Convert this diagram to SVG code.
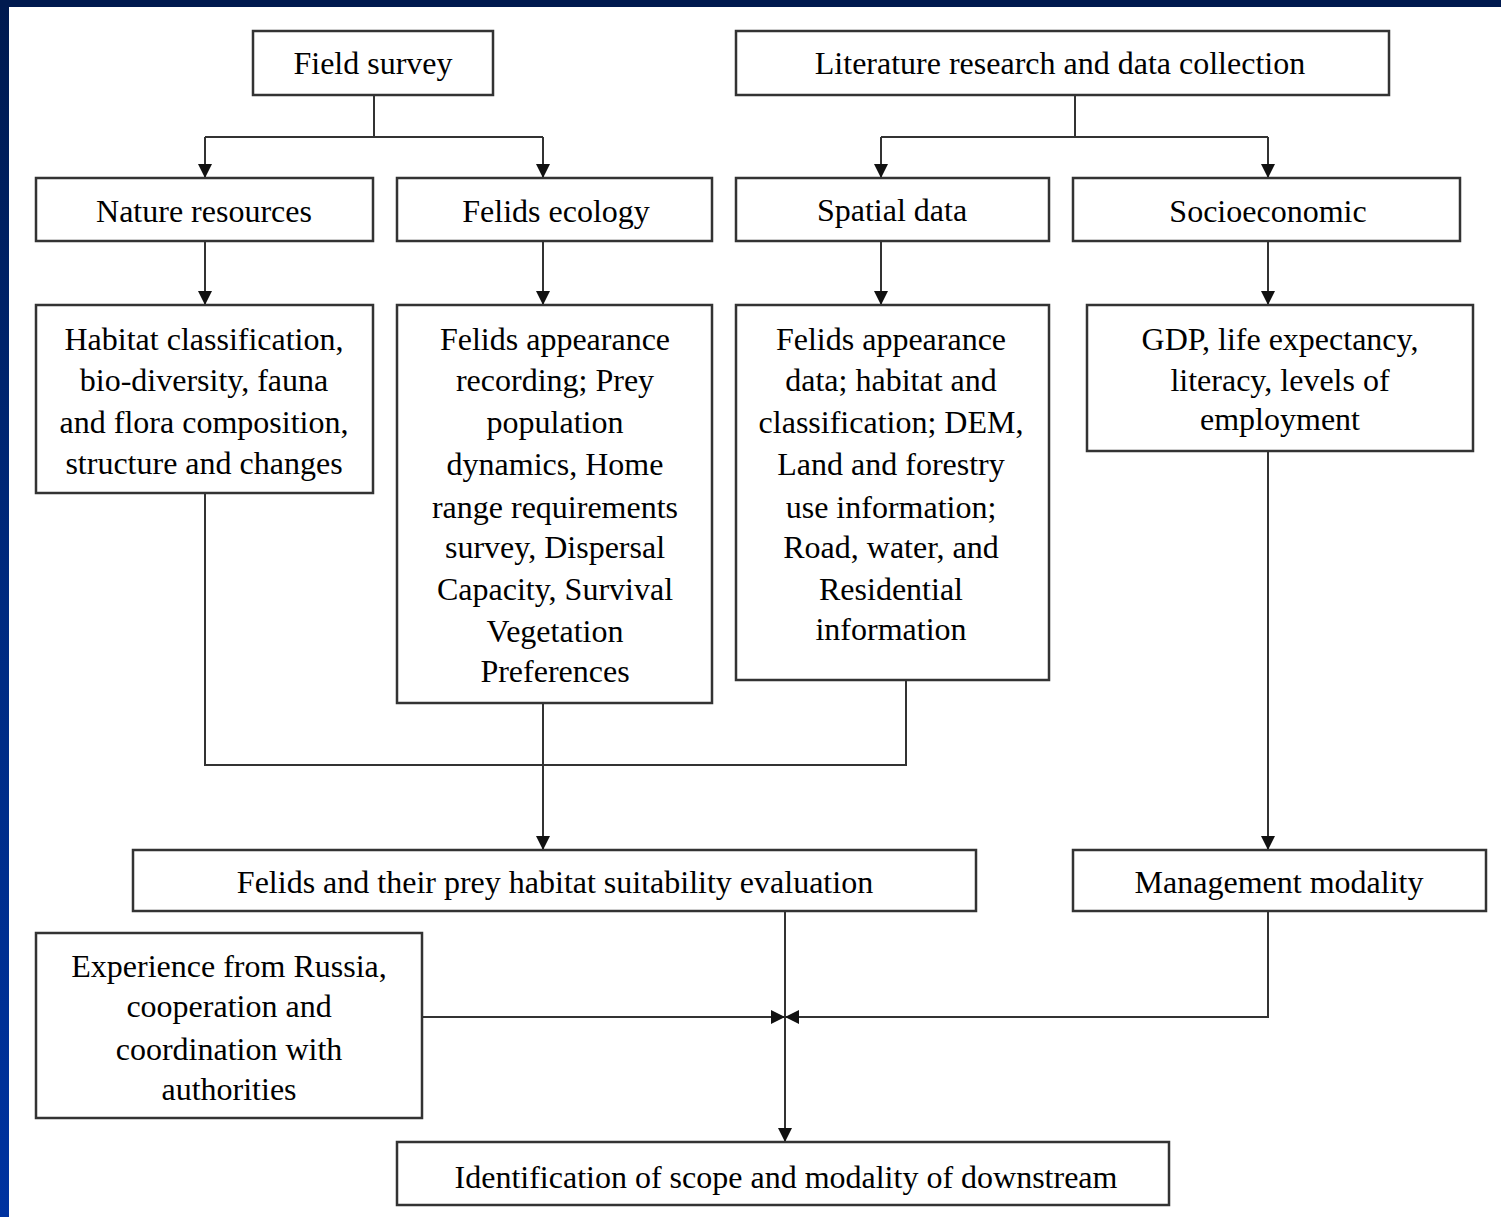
<svg xmlns="http://www.w3.org/2000/svg" width="1501" height="1217" viewBox="0 0 1501 1217">
<defs>
<linearGradient id="bg" x1="0" y1="0" x2="0" y2="1">
<stop offset="0" stop-color="#001a4f"/>
<stop offset="0.5" stop-color="#002a80"/>
<stop offset="1" stop-color="#0033a0"/>
</linearGradient>
<marker id="ah" viewBox="0 0 14 14" refX="14" refY="7" markerWidth="14" markerHeight="14" markerUnits="userSpaceOnUse" orient="auto">
<path d="M0,0 L14,7 L0,14 Z" fill="#111"/>
</marker>
<style>
.box{fill:#fff;stroke:#333;stroke-width:2.5}
.t{font-family:"Liberation Serif","Times New Roman",serif;font-size:32px;fill:#000;text-anchor:middle}
.c{fill:none;stroke:#333;stroke-width:2}
</style>
</defs>
<rect x="0" y="0" width="1501" height="1217" fill="url(#bg)"/>
<rect x="0" y="0" width="1501" height="7" fill="#001a4f"/>
<rect x="9" y="7" width="1492" height="1210" fill="#fff"/>

<g id="connectors">
<path class="c" d="M374,95 V137 M205,137 H543"/>
<path class="c" d="M205,137 V178" marker-end="url(#ah)"/>
<path class="c" d="M543,137 V178" marker-end="url(#ah)"/>
<path class="c" d="M1075,95 V137 M881,137 H1268"/>
<path class="c" d="M881,137 V178" marker-end="url(#ah)"/>
<path class="c" d="M1268,137 V178" marker-end="url(#ah)"/>
<path class="c" d="M205,241 V305" marker-end="url(#ah)"/>
<path class="c" d="M543,241 V305" marker-end="url(#ah)"/>
<path class="c" d="M881,241 V305" marker-end="url(#ah)"/>
<path class="c" d="M1268,241 V305" marker-end="url(#ah)"/>
<path class="c" d="M205,493 V765 H906 V680"/>
<path class="c" d="M543,703 V850" marker-end="url(#ah)"/>
<path class="c" d="M1268,451 V850" marker-end="url(#ah)"/>
<path class="c" d="M785,911 V1142" marker-end="url(#ah)"/>
<path class="c" d="M422,1017 H785" marker-end="url(#ah)"/>
<path class="c" d="M1268,911 V1017 H785" marker-end="url(#ah)"/>
</g>

<g id="field-survey">
<rect class="box" x="253" y="31" width="240" height="64"/>
<text class="t" x="373" y="74">Field survey</text>
</g>
<g id="literature">
<rect class="box" x="736" y="31" width="653" height="64"/>
<text class="t" x="1060" y="74">Literature research and data collection</text>
</g>
<g id="nature-resources">
<rect class="box" x="36" y="178" width="337" height="63"/>
<text class="t" x="204" y="222">Nature resources</text>
</g>
<g id="felids-ecology">
<rect class="box" x="397" y="178" width="315" height="63"/>
<text class="t" x="556" y="222">Felids ecology</text>
</g>
<g id="spatial-data">
<rect class="box" x="736" y="178" width="313" height="63"/>
<text class="t" x="892" y="221">Spatial data</text>
</g>
<g id="socioeconomic">
<rect class="box" x="1073" y="178" width="387" height="63"/>
<text class="t" x="1268" y="222">Socioeconomic</text>
</g>
<g id="habitat">
<rect class="box" x="36" y="305" width="337" height="188"/>
<text class="t" x="204"><tspan x="204" y="350">Habitat classification,</tspan><tspan x="204" y="391">bio-diversity, fauna</tspan><tspan x="204" y="433">and flora composition,</tspan><tspan x="204" y="474">structure and changes</tspan></text>
</g>
<g id="felids-appearance">
<rect class="box" x="397" y="305" width="315" height="398"/>
<text class="t" x="555"><tspan x="555" y="350">Felids appearance</tspan><tspan x="555" y="391">recording; Prey</tspan><tspan x="555" y="433">population</tspan><tspan x="555" y="475">dynamics, Home</tspan><tspan x="555" y="518">range requirements</tspan><tspan x="555" y="558">survey, Dispersal</tspan><tspan x="555" y="600">Capacity, Survival</tspan><tspan x="555" y="642">Vegetation</tspan><tspan x="555" y="682">Preferences</tspan></text>
</g>
<g id="spatial-info">
<rect class="box" x="736" y="305" width="313" height="375"/>
<text class="t" x="891"><tspan x="891" y="350">Felids appearance</tspan><tspan x="891" y="391">data; habitat and</tspan><tspan x="891" y="433">classification; DEM,</tspan><tspan x="891" y="475">Land and forestry</tspan><tspan x="891" y="518">use information;</tspan><tspan x="891" y="558">Road, water, and</tspan><tspan x="891" y="600">Residential</tspan><tspan x="891" y="640">information</tspan></text>
</g>
<g id="gdp">
<rect class="box" x="1087" y="305" width="386" height="146"/>
<text class="t" x="1280"><tspan x="1280" y="350">GDP, life expectancy,</tspan><tspan x="1280" y="391">literacy, levels of</tspan><tspan x="1280" y="430">employment</tspan></text>
</g>
<g id="suitability">
<rect class="box" x="133" y="850" width="843" height="61"/>
<text class="t" x="555" y="893">Felids and their prey habitat suitability evaluation</text>
</g>
<g id="management">
<rect class="box" x="1073" y="850" width="413" height="61"/>
<text class="t" x="1279" y="893">Management modality</text>
</g>
<g id="experience">
<rect class="box" x="36" y="933" width="386" height="185"/>
<text class="t" x="229"><tspan x="229" y="977">Experience from Russia,</tspan><tspan x="229" y="1017">cooperation and</tspan><tspan x="229" y="1060">coordination with</tspan><tspan x="229" y="1100">authorities</tspan></text>
</g>
<g id="identification">
<rect class="box" x="397" y="1142" width="772" height="63"/>
<text class="t" x="786" y="1188">Identification of scope and modality of downstream</text>
</g>
</svg>
